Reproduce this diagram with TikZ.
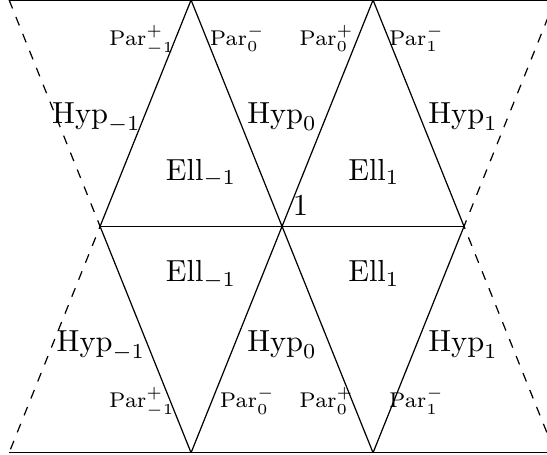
\documentclass[tikz,border=0pt]{standalone}
\usepackage{amsmath,amssymb}
\usetikzlibrary{arrows.meta,calc}

\begin{document}
\begin{tikzpicture}[x=1.05cm,y=1.045cm,>=Stealth,lab/.style={anchor=base},par/.style={anchor=base,font=\scriptsize}]
\clip (-3.1,-2.522) rectangle (2.912,2.5);
\coordinate (TL) at (-3,2.5); \coordinate (T1) at (-1,2.5); \coordinate (T2) at (1,2.5); \coordinate (TR) at (3,2.5);
\coordinate (M0) at (-2,0); \coordinate (M1) at (0,0); \coordinate (M2) at (2,0);
\coordinate (BL) at (-3,-2.5); \coordinate (B1) at (-1,-2.5); \coordinate (B2) at (1,-2.5); \coordinate (BR) at (3,-2.5);
\draw (TL)--(TR); \draw (BL)--(BR); \draw (M0)--(M2);
\draw (T1)--(B2); \draw (T2)--(B1);
\draw (T1)--(M0)--(B1); \draw (T2)--(M2)--(B2);
\draw[dashed] (TL)--(M0)--(BL); \draw[dashed] (TR)--(M2)--(BR);
\node[above right] (one) at (M1) {$1$};
% upper half
\node[par] (parPmU) at (-1.54,2) {$\mathrm{Par}^+_{-1}$}; \node[par] (parMzU) at (-0.49,2) {$\mathrm{Par}^-_0$};
\node[par] (parPzU) at (0.49,2) {$\mathrm{Par}^+_0$}; \node[par] (parMoU) at (1.48,2) {$\mathrm{Par}^-_1$};
\node[lab] (hypmU) at (-2.04,1.14) {$\mathrm{Hyp}_{-1}$}; \node[lab] (hypzU) at (0,1.14) {$\mathrm{Hyp}_0$}; \node[lab] (hypoU) at (1.99,1.14) {$\mathrm{Hyp}_1$};
\node[lab] (ellmU) at (-0.89,0.51) {$\mathrm{Ell}_{-1}$}; \node[lab] (elloU) at (1.01,0.51) {$\mathrm{Ell}_1$};
% lower half
\node[lab] (ellmL) at (-0.89,-0.61) {$\mathrm{Ell}_{-1}$}; \node[lab] (elloL) at (1.01,-0.61) {$\mathrm{Ell}_1$};
\node[lab] (hypmL) at (-1.99,-1.38) {$\mathrm{Hyp}_{-1}$}; \node[lab] (hypzL) at (0,-1.38) {$\mathrm{Hyp}_0$}; \node[lab] (hypoL) at (1.99,-1.38) {$\mathrm{Hyp}_1$};
\node[par] (parPmL) at (-1.54,-2) {$\mathrm{Par}^+_{-1}$}; \node[par] (parMzL) at (-0.38,-2) {$\mathrm{Par}^-_0$};
\node[par] (parPzL) at (0.49,-2) {$\mathrm{Par}^+_0$}; \node[par] (parMoL) at (1.48,-2) {$\mathrm{Par}^-_1$};
\end{tikzpicture}
\end{document}
